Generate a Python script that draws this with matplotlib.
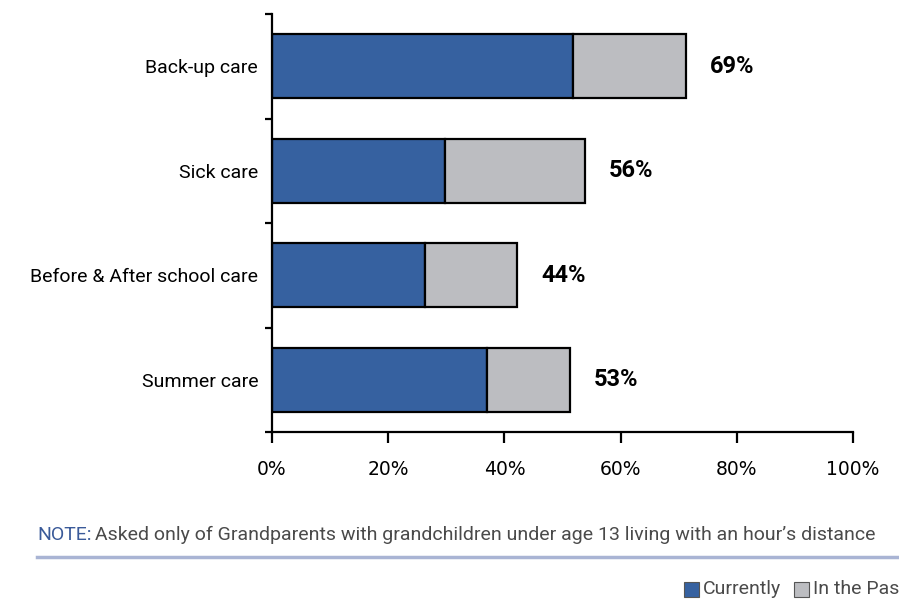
import numpy as np
import matplotlib.pyplot as plt

plt.rcParams['font.family'] = ['Roboto', 'DejaVu Sans']

# Care types and shares of grandparents (%)
categories = ['Back-up care', 'Sick care', 'Before & After school care', 'Summer care']
currently = [51.8, 29.8, 26.3, 37.0]
in_the_past = [19.5, 24.1, 15.9, 14.3]
net_total = [69, 56, 44, 53]   # net share who ever provided this care

blue = '#3661a0'
grey = '#bcbdc1'

fig = plt.figure(figsize=(8.99, 5.99), dpi=100)
ax = fig.add_axes([0.3026, 0.2788, 0.6463, 0.6978])

y = np.arange(len(categories))
ax.barh(y, currently, height=0.61, color=blue, edgecolor='black', linewidth=1.6)
ax.barh(y, in_the_past, left=currently, height=0.61, color=grey,
        edgecolor='black', linewidth=1.6)

totals = np.array(currently) + np.array(in_the_past)
for yi, tot, lab in zip(y, totals, net_total):
    ax.text(tot + 4.1, yi, f'{lab}%', va='center', ha='left',
            fontsize=17, fontweight='bold')

ax.set_xlim(0, 100)
ax.set_ylim(len(categories) - 0.5, -0.5)

ax.set_xticks(np.arange(0, 101, 20))
ax.set_xticklabels([f'{v}%' for v in range(0, 101, 20)], fontsize=13.5,
                   family='DejaVu Sans')
ax.tick_params(axis='x', length=8, width=1.6, pad=12)

ax.set_yticks(np.arange(-0.5, len(categories), 1.0))
ax.set_yticklabels([])
ax.tick_params(axis='y', which='major', length=5, width=1.6)
ax.set_yticks(y, minor=True)
ax.set_yticklabels(categories, minor=True, fontsize=14)
ax.tick_params(axis='y', which='minor', length=0, pad=10)

for side in ['top', 'right']:
    ax.spines[side].set_visible(False)
for side in ['left', 'bottom']:
    ax.spines[side].set_linewidth(1.6)

# note under the chart
note_y = 1 - 535 / 599
fig.text(37 / 899, note_y, 'NOTE:', color='#3a5a99', fontsize=14, va='center')
fig.text(95 / 899, note_y,
         'Asked only of Grandparents with grandchildren under age 13 living with an hour\u2019s distance',
         color='#4a4a4a', fontsize=14, va='center')
fig.add_artist(plt.Line2D([37 / 899, 1.0], [1 - 557 / 599] * 2, color='#a9b4d4',
                          linewidth=2.5, transform=fig.transFigure))

# legend
leg_y = 1 - 589 / 599
for x0, tx, col, txt in [(684, 703, blue, 'Currently'), (794, 813, grey, 'In the Past')]:
    fig.add_artist(plt.Rectangle((x0 / 899, leg_y - 7.5 / 599), 15 / 899, 15 / 599,
                                 facecolor=col, edgecolor='#555555', linewidth=0.8,
                                 transform=fig.transFigure))
    fig.text(tx / 899, leg_y, txt, color='#4a4a4a', fontsize=14, va='center')

fig.savefig('out.png', dpi=100)
